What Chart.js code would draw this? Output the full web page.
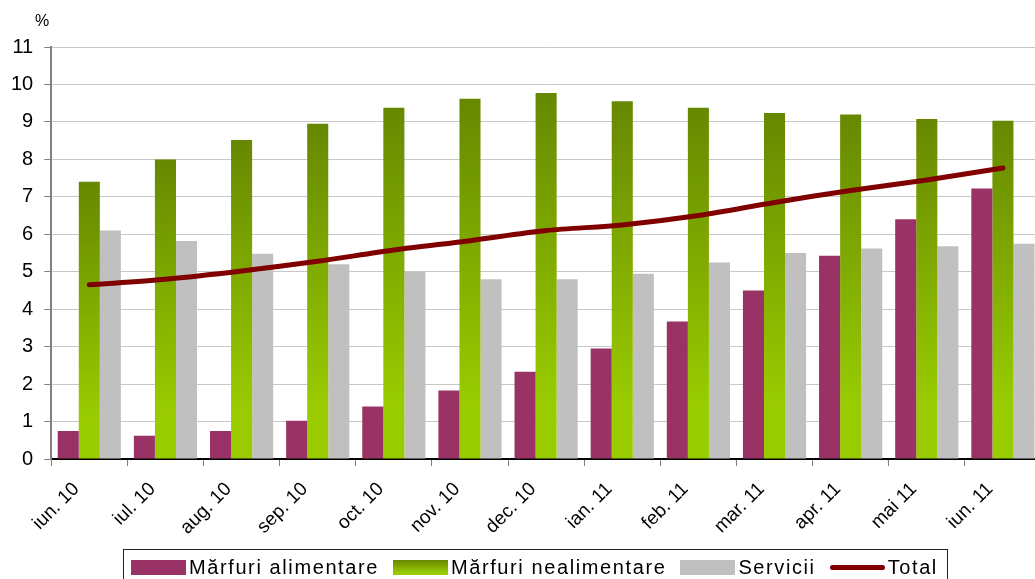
<!DOCTYPE html>
<html>
<head>
<meta charset="utf-8">
<script src="https://cdn.jsdelivr.net/npm/chart.js@4/dist/chart.umd.min.js"></script>
<style>
  html, body { margin: 0; padding: 0; background: #fff; overflow: hidden; }
  #wrap { position: absolute; left: 0; top: 0; width: 1041px; height: 579px; }
  #unit { position: absolute; left: 35px; top: 12px; font: 16px "Liberation Sans", Arial, sans-serif; color: #000; }
  #legend {
    position: absolute; left: 123px; top: 549px; width: 825px; height: 40px;
    border: 1px solid #222; box-sizing: border-box;
    display: flex; align-items: flex-start; padding-top: 6px;
    font: 20px "Liberation Sans", Arial, sans-serif; letter-spacing: 1.6px; color: #000;
  }
  #legend .item { display: flex; align-items: center; margin-left: 14px; }
  #legend .item:first-child { margin-left: 7px; }
  #legend .swatch { width: 55px; height: 15px; margin-right: 3px; }
  #legend .swatch.line { height: 5px; border-radius: 3px; }
</style>
</head>
<body>
<div id="wrap">
  <canvas id="inflationChart"></canvas>
</div>
<div id="unit">%</div>
<div id="legend"></div>
<script>
const months = ['iun. 10', 'iul. 10', 'aug. 10', 'sep. 10', 'oct. 10', 'nov. 10', 'dec. 10',
  'ian. 11', 'feb. 11', 'mar. 11', 'apr. 11', 'mai 11', 'iun. 11'];
const alimentare = [0.75, 0.62, 0.75, 1.02, 1.4, 1.83, 2.33, 2.95, 3.67, 4.5, 5.43, 6.4, 7.22];
const nealimentare = [7.4, 8.0, 8.52, 8.95, 9.38, 9.62, 9.77, 9.55, 9.38, 9.24, 9.2, 9.08, 9.03];
const servicii = [6.1, 5.82, 5.48, 5.2, 5.0, 4.8, 4.8, 4.95, 5.25, 5.5, 5.62, 5.68, 5.75];
const total = [4.65, 4.8, 5.02, 5.28, 5.58, 5.83, 6.1, 6.25, 6.5, 6.85, 7.17, 7.45, 7.77];
const yTicks = [0, 1, 2, 3, 4, 5, 6, 7, 8, 9, 10, 11];

const FONT = '"Liberation Sans", Arial, sans-serif';
const GREEN_TOP = '#668800';
const GREEN_BOTTOM = '#99cc00';

document.addEventListener('DOMContentLoaded', function() {
  const ctx = document.getElementById('inflationChart');

  // each green bar gets its own vertical gradient, dark at the top
  function greenBar(context) {
    const chart = context.chart;
    const y = chart.scales.y;
    if (!y || context.raw === undefined) return GREEN_BOTTOM;
    const top = y.getPixelForValue(context.raw);
    const bottom = y.getPixelForValue(0);
    if (!isFinite(top) || !isFinite(bottom) || bottom <= top) return GREEN_BOTTOM;
    const g = chart.ctx.createLinearGradient(0, top, 0, bottom);
    g.addColorStop(0, GREEN_TOP);
    g.addColorStop(0.85, GREEN_BOTTOM);
    g.addColorStop(1, GREEN_BOTTOM);
    return g;
  }

  const chart = new Chart(ctx, {
    type: 'bar',
    data: {
      labels: months,
      datasets: [
        {
          label: 'Mărfuri alimentare',
          data: alimentare,
          backgroundColor: '#993366',
          order: 1
        },
        {
          label: 'Mărfuri nealimentare',
          data: nealimentare,
          backgroundColor: greenBar,
          order: 1
        },
        {
          label: 'Servicii',
          data: servicii,
          backgroundColor: '#c0c0c0',
          order: 1
        },
        {
          type: 'line',
          label: 'Total',
          data: total,
          borderColor: '#800000',
          backgroundColor: '#800000',
          borderWidth: 5,
          borderCapStyle: 'round',
          pointRadius: 0,
          tension: 0.3,
          order: 0
        }
      ]
    },
    options: {
      responsive: true,
      maintainAspectRatio: false,
      animation: false,
      layout: { padding: { top: 47, left: 0, right: 0, bottom: 28 } },
      datasets: {
        bar: { categoryPercentage: 0.83, barPercentage: 1.0, borderWidth: 0 }
      },
      scales: {
        x: {
          offset: true,
          grid: { drawOnChartArea: false, drawTicks: true, tickLength: 7, tickColor: '#808080', tickWidth: 1 },
          border: { color: '#000', width: 2 },
          ticks: {
            color: '#000',
            font: { family: FONT, size: 19 },
            minRotation: 45,
            maxRotation: 45,
            labelOffset: -13,
            padding: 12,
            autoSkip: false
          }
        },
        y: {
          min: 0,
          max: 11,
          afterBuildTicks: function(axis) {
            axis.ticks = yTicks.map(v => ({ value: v }));
          },
          grid: { color: '#c8c8c8', lineWidth: 1, drawTicks: true, tickLength: 7, tickColor: '#808080' },
          border: { color: '#808080', width: 2 },
          ticks: {
            color: '#000',
            font: { family: FONT, size: 20 },
            padding: 11
          }
        }
      },
      plugins: {
        legend: { display: false },
        tooltip: { enabled: false }
      }
    }
  });

  createLegend(chart);

  function createLegend(chart) {
    const box = document.getElementById('legend');
    box.innerHTML = chart.data.datasets.map(ds => {
      let swatch = '';
      if (ds.type === 'line') {
        swatch = `<span class="swatch line" style="background:${ds.borderColor}"></span>`;
      } else if (typeof ds.backgroundColor === 'function') {
        swatch = `<span class="swatch" style="background:linear-gradient(${GREEN_TOP}, ${GREEN_BOTTOM} 85%)"></span>`;
      } else {
        swatch = `<span class="swatch" style="background:${ds.backgroundColor}"></span>`;
      }
      return `<span class="item">${swatch}<span>${ds.label}</span></span>`;
    }).join('');
  }
});
</script>
</body>
</html>
